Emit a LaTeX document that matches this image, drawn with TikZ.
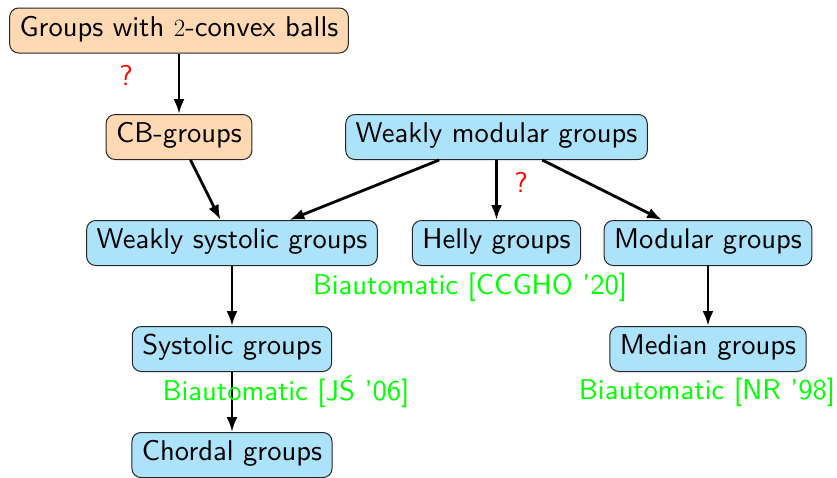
\documentclass[tikz,border=0pt]{standalone}
\usepackage{fontspec}
\setsansfont{lmsans10-regular.otf}
\usetikzlibrary{arrows.meta}
\definecolor{boxorange}{RGB}{255,217,179}
\definecolor{boxblue}{RGB}{172,226,250}
\definecolor{biagreen}{RGB}{0,255,0}
\newcommand{\reffont}{\sffamily\fontsize{28.6}{34}\selectfont}
\tikzset{
  grp/.style={draw=black!85, line width=1pt, rounded corners=9pt, minimum height=45pt,
    inner xsep=10pt, inner ysep=0pt, font=\reffont,
    text height=0.72em+6pt, text depth=0.22em},
  orangebox/.style={grp, fill=boxorange},
  bluebox/.style={grp, fill=boxblue},
  conn/.style={-{Latex[length=15pt,width=11pt]}, line width=2.8pt},
  qmark/.style={text=red, font=\reffont},
  bia/.style={text=biagreen, font=\reffont}
}
\begin{document}
\begin{tikzpicture}[x=1pt,y=-1pt]
\useasboundingbox (0,0) rectangle (837,477);
\node[orangebox] (top) at (179,30.5) {Groups with $2$-convex balls};
\node[orangebox] (cb) at (179,137) {CB-groups};
\node[bluebox] (wm) at (496.5,137) {Weakly modular groups};
\node[bluebox] (ws) at (232,243) {Weakly systolic groups};
\node[bluebox] (helly) at (496.5,243) {Helly groups};
\node[bluebox] (mod) at (708,243) {Modular groups};
\node[bluebox] (sys) at (232,349) {Systolic groups};
\node[bluebox] (med) at (708,349) {Median groups};
\node[bluebox] (chord) at (232,455) {Chordal groups};

\draw[conn] (top) -- (cb);
\draw[conn] (cb) -- (ws);
\draw[conn] (wm) -- (ws);
\draw[conn] (wm) -- (helly);
\draw[conn] (wm) -- (mod);
\draw[conn] (ws) -- (sys);
\draw[conn] (mod) -- (med);
\draw[conn] (sys) -- (chord);

\node[qmark] (q1) at (126,75) {?};
\node[qmark] (q2) at (521,182) {?};
\node[bia] (b1) at (470,287) {Biautomatic [CCGHO '20]};
\node[bia] (b2) at (286,392) {Biautomatic [JŚ '06]};
\node[bia] (b3) at (707,392) {Biautomatic [NR '98]};
\end{tikzpicture}
\end{document}
